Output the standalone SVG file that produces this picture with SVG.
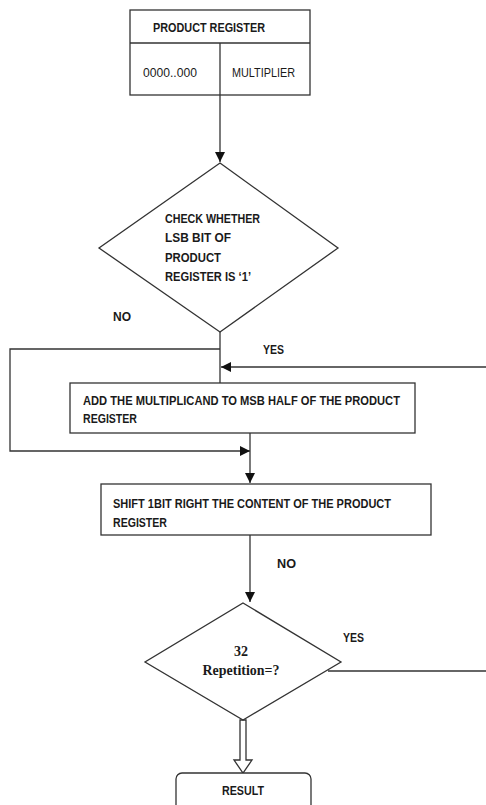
<svg xmlns="http://www.w3.org/2000/svg" width="486" height="805" viewBox="0 0 486 805">
<style>
.b{fill:#fff;stroke:#333;stroke-width:1.3}
.l{fill:none;stroke:#333;stroke-width:1.3}
.t{font-family:"Liberation Sans Narrow","Liberation Sans",Arial,sans-serif;font-weight:bold;font-size:13.5px;fill:#1a1a1a}
.n{font-family:"Liberation Sans Narrow","Liberation Sans",Arial,sans-serif;font-size:13px;fill:#1a1a1a}
.s{font-family:"Liberation Serif","Times New Roman",serif;font-weight:bold;font-size:14px;fill:#1a1a1a}
</style>
<defs>
<marker id="ah" viewBox="0 0 10 10" refX="10" refY="5" markerWidth="10" markerHeight="10" markerUnits="userSpaceOnUse" orient="auto">
<path d="M0,0 L10,5 L0,10 Z" fill="#111"/>
</marker>
</defs>
<g id="connectors">
<line class="l" x1="220" y1="95" x2="220" y2="162" marker-end="url(#ah)"/>
<line class="l" x1="220" y1="332" x2="220" y2="383"/>
<polyline class="l" points="220,349 10,349 10,451 250,451" marker-end="url(#ah)"/>
<line class="l" x1="486" y1="367" x2="221" y2="367" marker-end="url(#ah)"/>
<line class="l" x1="250" y1="433" x2="250" y2="483" marker-end="url(#ah)"/>
<line class="l" x1="250" y1="535" x2="250" y2="602" marker-end="url(#ah)"/>
<line class="l" x1="328" y1="671" x2="486" y2="671"/>
<path class="b" d="M240,720 L246,720 L246,760 L252,760 L243,773 L234,760 L240,760 Z"/>
</g>
<g id="product-register">
<rect class="b" x="130" y="10" width="180" height="85"/>
<line class="l" x1="130" y1="43" x2="310" y2="43"/>
<line class="l" x1="220" y1="43" x2="220" y2="95"/>
<text class="t" x="153" y="32" textLength="112" lengthAdjust="spacingAndGlyphs">PRODUCT REGISTER</text>
<text class="n" x="143" y="77" textLength="54" lengthAdjust="spacingAndGlyphs">0000..000</text>
<text class="n" x="232" y="77" textLength="63" lengthAdjust="spacingAndGlyphs">MULTIPLIER</text>
</g>
<g id="check-lsb">
<polygon class="b" points="220,163 338,248 220,332 99,248"/>
<text class="t" x="165" y="223" textLength="95" lengthAdjust="spacingAndGlyphs">CHECK WHETHER</text>
<text class="t" x="165" y="242" textLength="66" lengthAdjust="spacingAndGlyphs">LSB BIT OF</text>
<text class="t" x="165" y="262" textLength="56" lengthAdjust="spacingAndGlyphs">PRODUCT</text>
<text class="t" x="165" y="281" textLength="86" lengthAdjust="spacingAndGlyphs">REGISTER IS ‘1’</text>
</g>
<g id="labels">
<text class="t" x="113" y="321" textLength="18" lengthAdjust="spacingAndGlyphs">NO</text>
<text class="t" x="263" y="354" textLength="21" lengthAdjust="spacingAndGlyphs">YES</text>
<text class="t" x="277" y="568" textLength="19" lengthAdjust="spacingAndGlyphs">NO</text>
<text class="t" x="343" y="642" textLength="21" lengthAdjust="spacingAndGlyphs">YES</text>
</g>
<g id="add-multiplicand">
<rect class="b" x="70" y="383" width="345" height="50"/>
<text class="t" x="83" y="405" textLength="317" lengthAdjust="spacingAndGlyphs">ADD THE MULTIPLICAND TO MSB HALF OF THE PRODUCT</text>
<text class="t" x="83" y="423" textLength="54" lengthAdjust="spacingAndGlyphs">REGISTER</text>
</g>
<g id="shift-right">
<rect class="b" x="101" y="484" width="330" height="51"/>
<text class="t" x="113" y="508" textLength="278" lengthAdjust="spacingAndGlyphs">SHIFT 1BIT RIGHT THE CONTENT OF THE PRODUCT</text>
<text class="t" x="113" y="527" textLength="54" lengthAdjust="spacingAndGlyphs">REGISTER</text>
</g>
<g id="repetition">
<polygon class="b" points="243,603 341,662 243,720 145,662"/>
<text class="s" x="241" y="656" text-anchor="middle">32</text>
<text class="s" x="241" y="675" text-anchor="middle" textLength="77" lengthAdjust="spacingAndGlyphs">Repetition=?</text>
</g>
<g id="result">
<rect class="b" x="176" y="773" width="135" height="45" rx="6"/>
<text class="t" x="222" y="795" textLength="42" lengthAdjust="spacingAndGlyphs">RESULT</text>
</g>
</svg>
